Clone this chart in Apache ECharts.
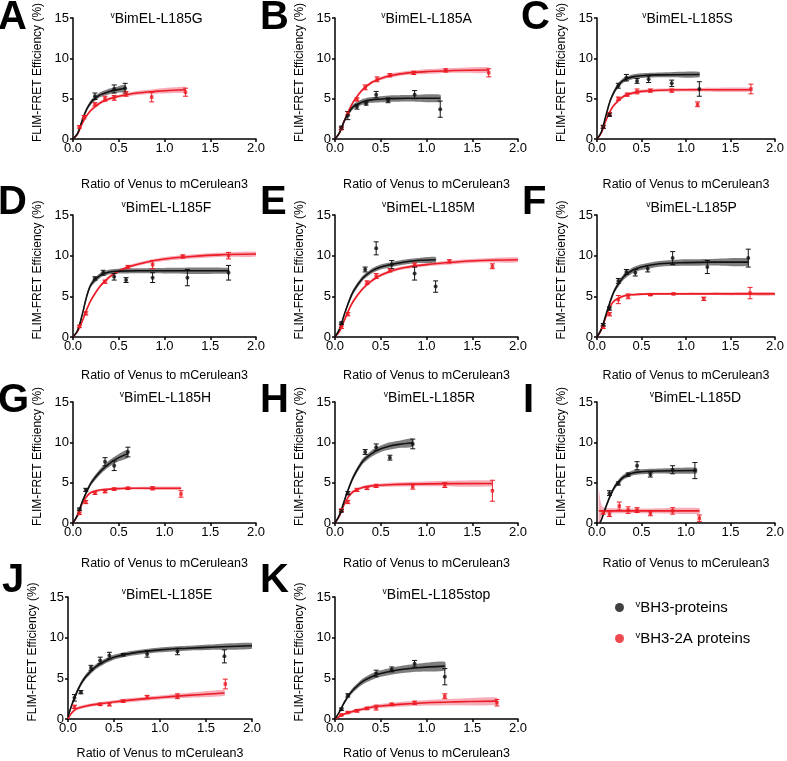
<!DOCTYPE html>
<html><head><meta charset="utf-8">
<script src="https://cdn.jsdelivr.net/npm/echarts/dist/echarts.min.js"></script>
<style>html,body{margin:0;padding:0;background:#fff}#c{width:787px;height:761px}</style>
</head><body><div id="c"></div>
<script>
const FONT = '"Liberation Sans", Arial, sans-serif';
const letters = ['A','B','C','D','E','F','G','H','I','J','K'];
const titles = ['BimEL-L185G','BimEL-L185A','BimEL-L185S','BimEL-L185F','BimEL-L185M','BimEL-L185P',
                'BimEL-L185H','BimEL-L185R','BimEL-L185D','BimEL-L185E','BimEL-L185stop'];
const seriesNames = ['BH3-proteins', 'BH3-2A proteins'];
const xTickLabels = ['0.0','0.5','1.0','1.5','2.0'];
const yTickLabels = ['0','5','10','15'];
const xAxisTitle = 'Ratio of Venus to mCerulean3';
const yAxisTitle = 'FLIM-FRET Efficiency (%)';

// points: [ratio, efficiency, error]; fits: [ratio, fitted efficiency, band half-width]
const A_kPts = [[0.24,5.3,0.4],[0.45,6.2,0.5],[0.57,6.3,0.6]];
const A_kFit = [[0,0,0],[0.05,0.7,0.1],[0.1,2.3,0.2],[0.15,3.7,0.25],[0.2,4.6,0.3],[0.25,5.1,0.3],[0.3,5.5,0.3],[0.4,5.9,0.35],[0.5,6.15,0.4],[0.57,6.3,0.4]];
const A_rPts = [[0.07,1.5,0.15],[0.12,2.7,0.2],[0.24,4.3,0.2],[0.35,5.0,0.3],[0.45,5.1,0.3],[0.58,5.6,0.3],[0.86,5.2,0.6],[1.23,5.8,0.5]];
const A_rFit = [[0,0,0],[0.05,0.6,0.1],[0.1,1.9,0.15],[0.15,2.9,0.2],[0.2,3.6,0.2],[0.3,4.5,0.2],[0.4,5.0,0.2],[0.5,5.3,0.2],[0.7,5.7,0.25],[0.9,5.9,0.3],[1.1,6.05,0.35],[1.23,6.1,0.35]];

const B_kPts = [[0.07,1.4,0.2],[0.14,2.9,0.5],[0.24,4.0,0.3],[0.34,4.4,0.2],[0.45,5.5,0.4],[0.58,4.8,0.3],[0.87,5.5,0.5],[1.15,3.7,1.0]];
const B_kFit = [[0,0,0],[0.05,0.8,0.15],[0.1,2.2,0.25],[0.15,3.3,0.3],[0.2,4.0,0.3],[0.3,4.6,0.35],[0.4,4.85,0.35],[0.6,5.0,0.4],[0.8,5.05,0.4],[1.15,5.05,0.45]];
const B_rPts = [[0.07,1.3,0.15],[0.14,3.2,0.2],[0.24,4.9,0.2],[0.33,6.4,0.3],[0.46,7.4,0.3],[0.6,7.9,0.2],[0.86,8.2,0.2],[1.21,8.5,0.2],[1.68,8.2,0.5]];
const B_rFit = [[0,0,0],[0.05,0.8,0.1],[0.1,2.2,0.15],[0.15,3.5,0.2],[0.2,4.6,0.2],[0.3,6.1,0.2],[0.4,7.0,0.2],[0.5,7.5,0.2],[0.6,7.85,0.25],[0.8,8.2,0.25],[1.0,8.35,0.3],[1.3,8.5,0.3],[1.68,8.55,0.35]];

const C_kPts = [[0.07,1.5,0.2],[0.14,3.0,0.2],[0.24,6.6,0.3],[0.33,7.6,0.4],[0.45,7.2,0.3],[0.58,7.4,0.4],[0.84,6.9,0.4],[1.15,6.2,0.9]];
const C_kFit = [[0,0,0],[0.05,0.9,0.1],[0.1,2.9,0.2],[0.15,4.8,0.25],[0.2,6.0,0.3],[0.25,6.8,0.3],[0.3,7.3,0.3],[0.4,7.7,0.3],[0.5,7.85,0.3],[0.7,7.95,0.3],[1.15,8.0,0.35]];
const C_rPts = [[0.07,1.5,0.15],[0.14,3.1,0.2],[0.24,5.0,0.2],[0.34,5.5,0.2],[0.45,5.9,0.3],[0.6,6.0,0.2],[0.84,6.0,0.2],[1.13,4.3,0.3],[1.73,6.2,0.6]];
const C_rFit = [[0,0,0],[0.05,0.8,0.1],[0.1,2.3,0.15],[0.15,3.5,0.2],[0.2,4.3,0.2],[0.3,5.3,0.2],[0.4,5.7,0.2],[0.5,5.9,0.2],[0.7,6.05,0.2],[1.0,6.1,0.2],[1.73,6.1,0.25]];

const D_kPts = [[0.24,7.2,0.2],[0.33,7.9,0.3],[0.45,7.4,0.4],[0.58,7.0,0.3],[0.87,7.3,0.6],[1.25,7.3,1.0],[1.7,7.9,0.9]];
const D_kFit = [[0,0,0],[0.05,0.8,0.1],[0.1,2.7,0.2],[0.15,5.0,0.3],[0.2,6.5,0.3],[0.3,7.6,0.3],[0.4,8.0,0.3],[0.5,8.1,0.3],[0.7,8.15,0.3],[1.7,8.15,0.35]];
const D_rPts = [[0.07,1.3,0.15],[0.14,2.9,0.2],[0.35,6.8,0.2],[0.6,8.6,0.2],[0.87,8.9,0.5],[1.2,9.9,0.2],[1.7,10.0,0.4]];
const D_rFit = [[0,0,0],[0.05,0.7,0.1],[0.1,1.9,0.15],[0.15,3.4,0.2],[0.2,4.6,0.2],[0.3,6.3,0.2],[0.4,7.4,0.2],[0.5,8.1,0.2],[0.6,8.6,0.2],[0.8,9.2,0.2],[1.0,9.6,0.25],[1.3,9.9,0.25],[1.6,10.1,0.25],[2.0,10.2,0.3]];

const E_kPts = [[0.07,1.7,0.15],[0.33,8.3,0.3],[0.45,10.9,0.8],[0.62,8.9,0.5],[0.87,7.8,0.8],[1.1,6.2,0.7]];
const E_kFit = [[0,0,0],[0.05,1.0,0.15],[0.1,2.7,0.2],[0.15,4.3,0.3],[0.2,5.6,0.3],[0.3,7.2,0.3],[0.4,8.1,0.3],[0.5,8.6,0.3],[0.7,9.1,0.3],[0.9,9.4,0.3],[1.1,9.5,0.35]];
const E_rPts = [[0.07,1.2,0.15],[0.14,2.8,0.2],[0.35,6.7,0.2],[0.45,7.5,0.3],[0.6,8.2,0.2],[0.87,8.9,0.2],[1.25,9.3,0.2],[1.72,8.7,0.3]];
const E_rFit = [[0,0,0],[0.05,0.7,0.1],[0.1,2.0,0.15],[0.15,3.3,0.2],[0.2,4.4,0.2],[0.3,5.9,0.2],[0.4,6.9,0.2],[0.5,7.6,0.2],[0.7,8.4,0.2],[1.0,8.9,0.2],[1.3,9.2,0.25],[1.6,9.4,0.25],[2.0,9.5,0.3]];

const F_kPts = [[0.07,1.5,0.15],[0.14,3.5,0.2],[0.24,6.9,0.3],[0.33,8.0,0.3],[0.43,7.9,0.4],[0.57,8.4,0.4],[0.85,9.7,0.8],[1.24,8.6,0.8],[1.7,9.7,1.1]];
const F_kFit = [[0,0,0],[0.05,1.0,0.15],[0.1,2.7,0.2],[0.15,4.4,0.3],[0.2,5.8,0.3],[0.3,7.4,0.35],[0.4,8.2,0.35],[0.5,8.6,0.35],[0.7,9.0,0.35],[1.0,9.15,0.4],[1.3,9.2,0.4],[1.7,9.2,0.45]];
const F_rPts = [[0.07,1.2,0.15],[0.14,2.8,0.2],[0.24,4.6,0.5],[0.35,5.0,0.3],[0.6,5.2,0.1],[0.86,5.3,0.1],[1.2,4.7,0.2],[1.72,5.4,0.7]];
const F_rFit = [[0,0,0],[0.05,0.9,0.1],[0.1,2.5,0.15],[0.15,3.8,0.15],[0.2,4.5,0.15],[0.3,5.05,0.15],[0.4,5.2,0.15],[0.6,5.3,0.15],[1.0,5.3,0.15],[2.0,5.3,0.2]];

const G_kPts = [[0.07,1.7,0.15],[0.14,4.1,0.2],[0.35,7.6,0.5],[0.45,7.1,0.6],[0.6,8.8,0.6]];
const G_kFit = [[0,0,0],[0.05,1.0,0.15],[0.1,2.6,0.2],[0.15,3.9,0.25],[0.2,5.0,0.3],[0.3,6.4,0.35],[0.4,7.4,0.4],[0.5,8.1,0.45],[0.6,8.6,0.5]];
const G_rPts = [[0.07,1.2,0.15],[0.14,2.6,0.2],[0.24,3.7,0.15],[0.35,3.9,0.15],[0.45,4.2,0.15],[0.6,4.3,0.15],[0.87,4.3,0.2],[1.18,3.6,0.4]];
const G_rFit = [[0,0,0],[0.05,0.9,0.1],[0.1,2.4,0.15],[0.15,3.3,0.15],[0.2,3.8,0.15],[0.3,4.1,0.15],[0.4,4.2,0.15],[0.6,4.3,0.15],[1.18,4.3,0.2]];

const H_kPts = [[0.07,1.5,0.15],[0.14,3.7,0.2],[0.33,8.8,0.3],[0.45,9.4,0.4],[0.6,8.1,0.3],[0.85,9.8,0.6]];
const H_kFit = [[0,0,0],[0.05,1.0,0.15],[0.1,2.7,0.2],[0.15,4.3,0.25],[0.2,5.7,0.3],[0.3,7.6,0.35],[0.4,8.6,0.4],[0.5,9.2,0.4],[0.6,9.55,0.45],[0.7,9.75,0.45],[0.85,9.95,0.5]];
const H_rPts = [[0.07,1.6,0.15],[0.14,2.6,0.2],[0.24,4.1,0.2],[0.35,4.3,0.15],[0.45,4.6,0.2],[0.85,4.5,0.3],[1.2,4.7,0.3],[1.72,4.0,1.3]];
const H_rFit = [[0,0,0],[0.05,0.9,0.1],[0.1,2.3,0.15],[0.15,3.3,0.2],[0.2,3.9,0.2],[0.3,4.4,0.2],[0.4,4.6,0.2],[0.6,4.75,0.25],[1.0,4.85,0.3],[1.72,4.9,0.35]];

const I_kPts = [[0.14,3.7,0.3],[0.24,4.9,0.2],[0.35,6.0,0.2],[0.45,7.1,0.5],[0.6,6.0,0.3],[0.85,6.6,0.5],[1.1,6.5,1.0]];
const I_kFit = [[0.03,0,0],[0.05,0.4,0.1],[0.1,2.0,0.2],[0.15,3.4,0.25],[0.2,4.5,0.3],[0.25,5.2,0.3],[0.3,5.7,0.3],[0.4,6.2,0.3],[0.5,6.35,0.3],[0.7,6.45,0.3],[1.12,6.5,0.35]];
const I_rPts = [[0.07,1.3,0.2],[0.14,1.1,0.3],[0.25,2.1,0.5],[0.35,1.6,0.4],[0.45,1.6,0.3],[0.6,1.2,0.3],[0.85,1.5,0.4],[1.15,0.6,0.4]];
const I_rFit = [[0.02,1.5,2.8],[0.04,1.5,1.2],[0.06,1.5,0.5],[0.1,1.5,0.35],[0.3,1.5,0.3],[0.6,1.5,0.3],[1.15,1.5,0.35]];

const J_kPts = [[0.07,2.6,0.4],[0.14,3.3,0.2],[0.25,6.3,0.3],[0.35,7.2,0.4],[0.45,7.8,0.4],[0.6,7.9,0.15],[0.86,8.0,0.4],[1.19,8.3,0.4],[1.7,7.7,0.8]];
const J_kFit = [[0,0.3,0.2],[0.05,2.0,0.25],[0.1,3.4,0.3],[0.15,4.5,0.3],[0.2,5.3,0.3],[0.3,6.4,0.3],[0.4,7.1,0.3],[0.5,7.6,0.3],[0.7,8.1,0.3],[1.0,8.5,0.3],[1.3,8.7,0.3],[1.6,8.85,0.35],[2.0,9.0,0.35]];
const J_rPts = [[0.07,1.5,0.2],[0.35,1.8,0.15],[0.45,1.8,0.2],[0.6,2.2,0.15],[0.86,2.7,0.2],[1.19,2.8,0.3],[1.71,4.3,0.6]];
const J_rFit = [[0,0,0],[0.03,0.6,0.15],[0.07,1.1,0.2],[0.1,1.3,0.2],[0.2,1.6,0.2],[0.3,1.8,0.2],[0.5,2.1,0.2],[0.7,2.35,0.25],[1.0,2.65,0.25],[1.3,2.9,0.3],[1.7,3.2,0.35]];

const K_kPts = [[0.07,1.2,0.15],[0.14,2.9,0.2],[0.45,5.6,0.4],[0.62,6.1,0.3],[0.87,6.8,0.4],[1.2,5.2,1.0]];
const K_kFit = [[0,0,0],[0.05,0.9,0.15],[0.1,2.0,0.2],[0.15,2.9,0.25],[0.2,3.6,0.3],[0.3,4.6,0.35],[0.4,5.2,0.4],[0.5,5.6,0.4],[0.7,6.05,0.45],[0.9,6.3,0.5],[1.2,6.5,0.55]];
const K_rPts = [[0.07,0.5,0.1],[0.14,0.8,0.1],[0.24,1.0,0.15],[0.35,1.3,0.15],[0.45,1.4,0.3],[0.62,1.8,0.15],[0.87,2.0,0.2],[1.2,2.8,0.3],[1.77,2.0,0.4]];
const K_rFit = [[0,0,0],[0.05,0.3,0.1],[0.1,0.6,0.15],[0.2,0.95,0.2],[0.3,1.2,0.2],[0.4,1.45,0.25],[0.5,1.6,0.25],[0.7,1.8,0.3],[1.0,2.0,0.35],[1.3,2.1,0.4],[1.77,2.2,0.45]];

const panels = [
  [A_kPts,A_kFit,A_rPts,A_rFit],[B_kPts,B_kFit,B_rPts,B_rFit],[C_kPts,C_kFit,C_rPts,C_rFit],
  [D_kPts,D_kFit,D_rPts,D_rFit],[E_kPts,E_kFit,E_rPts,E_rFit],[F_kPts,F_kFit,F_rPts,F_rFit],
  [G_kPts,G_kFit,G_rPts,G_rFit],[H_kPts,H_kFit,H_rPts,H_rFit],[I_kPts,I_kFit,I_rPts,I_rFit],
  [J_kPts,J_kFit,J_rPts,J_rFit],[K_kPts,K_kFit,K_rPts,K_rFit]
];

// layout
const colLeft = [73, 335, 597];
const rowTop = [18, 215, 402, 597];
const rowH = [121, 122, 121, 123];
const titleY = [19, 208, 398, 595];
const titleDx = [-8, 0, -1, 2, 2, 3, 1, 3, 7, 7, 10];
const xNameGap = [39, 32, 34, 28];
const letterPos = [[-2,18],[260,18],[521,18],[-2,203],[260,203],[522,203],[-2,401],[260,401],[523,401],[2,581],[260,581]];

const BLACK = '#111111', RED = '#ec1c24';
const BLACK_BAND = 'rgba(20,20,20,0.55)', RED_BAND = 'rgba(238,70,100,0.45)';

function errRender(params, api) {
  const x = api.value(0), y = api.value(1), e = api.value(2);
  const t = api.coord([x, y + e]), b = api.coord([x, y - e]);
  const cw = 2.5;
  const st = {stroke: api.visual('color'), lineWidth: 1};
  return {type: 'group', children: [
    {type: 'line', shape: {x1: t[0], y1: t[1], x2: b[0], y2: b[1]}, style: st},
    {type: 'line', shape: {x1: t[0]-cw, y1: t[1], x2: t[0]+cw, y2: t[1]}, style: st},
    {type: 'line', shape: {x1: b[0]-cw, y1: b[1], x2: b[0]+cw, y2: b[1]}, style: st}
  ]};
}
function bandRender(fit, fill) {
  return function(params, api) {
    if (params.dataIndex !== 0) return null;
    const up = fit.map(p => api.coord([p[0], p[1] + p[2]]));
    const lo = fit.map(p => api.coord([p[0], p[1] - p[2]])).reverse();
    return {type: 'polygon', shape: {points: up.concat(lo), smooth: 0.2}, style: {fill: fill}, silent: true};
  };
}

const grid = [], xAxis = [], yAxis = [], series = [], graphic = [];
panels.forEach((p, i) => {
  const row = Math.floor(i / 3), col = i % 3;
  const left = i === 9 ? 68 : colLeft[col];
  const width = i === 9 ? 184 : 183;
  grid.push({left: left, top: rowTop[row], width: width, height: rowH[row]});
  xAxis.push({gridIndex: i, type: 'value', min: 0, max: 2, interval: 0.5,
    axisLine: {show: true, onZero: false, lineStyle: {color: '#000', width: 1.5}},
    axisTick: {show: true, length: 3, lineStyle: {color: '#000', width: 1.5}},
    axisLabel: {color: '#000', fontSize: 13, fontFamily: FONT, margin: 3,
      formatter: (v) => xTickLabels[Math.round(v / 0.5)]},
    splitLine: {show: false},
    name: xAxisTitle, nameLocation: 'middle', nameGap: xNameGap[row],
    nameTextStyle: {color: '#000', fontSize: 12.5, fontFamily: FONT}});
  yAxis.push({gridIndex: i, type: 'value', min: 0, max: 15, interval: 5,
    axisLine: {show: true, onZero: false, lineStyle: {color: '#000', width: 1.5}},
    axisTick: {show: true, length: 3, lineStyle: {color: '#000', width: 1.5}},
    axisLabel: {color: '#000', fontSize: 13, fontFamily: FONT, margin: 4,
      formatter: (v) => yTickLabels[Math.round(v / 5)]},
    splitLine: {show: false},
    name: yAxisTitle, nameLocation: 'middle', nameGap: 29, nameRotate: 90,
    nameTextStyle: {color: '#000', fontSize: 12, fontFamily: FONT, padding: [0, 0, 0, 12]}});

  const sets = [[p[2], p[3], RED, RED_BAND, seriesNames[1], 'rect', 3.5], [p[0], p[1], BLACK, BLACK_BAND, seriesNames[0], 'circle', 4]];
  sets.forEach(([pts, fit, color, band, name, sym, size]) => {
    series.push({type: 'custom', xAxisIndex: i, yAxisIndex: i, data: fit, encode: {x: 0, y: 1},
      renderItem: bandRender(fit, band), clip: true, z: 1, silent: true});
    series.push({type: 'line', xAxisIndex: i, yAxisIndex: i, data: fit.map(d => [d[0], d[1]]),
      smooth: 0.35, showSymbol: false, lineStyle: {color: color, width: 1.6}, z: 2, silent: true});
    series.push({type: 'custom', xAxisIndex: i, yAxisIndex: i, data: pts, encode: {x: 0, y: 1},
      renderItem: errRender, itemStyle: {color: color}, z: 3, silent: true});
    series.push({type: 'scatter', name: name, xAxisIndex: i, yAxisIndex: i, data: pts.map(d => [d[0], d[1]]),
      symbol: sym, symbolSize: size, itemStyle: {color: color}, z: 4, silent: true});
  });

  graphic.push({type: 'text', x: left + width / 2 + titleDx[i], y: titleY[row], silent: true,
    style: {text: '{v|v}{t|' + titles[i] + '}', align: 'center', verticalAlign: 'middle',
      rich: {v: {fontSize: 8.5, fontFamily: FONT, fill: '#000', verticalAlign: 'top', lineHeight: 16},
             t: {fontSize: 14, fontFamily: FONT, fill: '#000', lineHeight: 16}}}});
  graphic.push({type: 'text', x: letterPos[i][0], y: letterPos[i][1], silent: true,
    style: {text: letters[i], font: 'bold 40px ' + FONT, fill: '#000', align: 'left', verticalAlign: 'middle'}});
});

const chart = echarts.init(document.getElementById('c'));
chart.setOption({
  animation: false,
  backgroundColor: '#fff',
  grid: grid, xAxis: xAxis, yAxis: yAxis, series: series, graphic: graphic,
  legend: {left: 610, top: 594, orient: 'vertical', itemGap: 15, itemWidth: 22, itemHeight: 9,
    symbolKeepAspect: true,
    data: [{name: seriesNames[0], icon: 'circle', itemStyle: {color: BLACK}}, {name: seriesNames[1], icon: 'circle', itemStyle: {color: RED}}],
    formatter: (n) => '{v|v}{t|' + n + '}',
    textStyle: {rich: {v: {fontSize: 9.5, fontFamily: FONT, color: '#000', verticalAlign: 'top', lineHeight: 17},
                       t: {fontSize: 15, fontFamily: FONT, color: '#000', lineHeight: 17}}}}
});
</script></body></html>
